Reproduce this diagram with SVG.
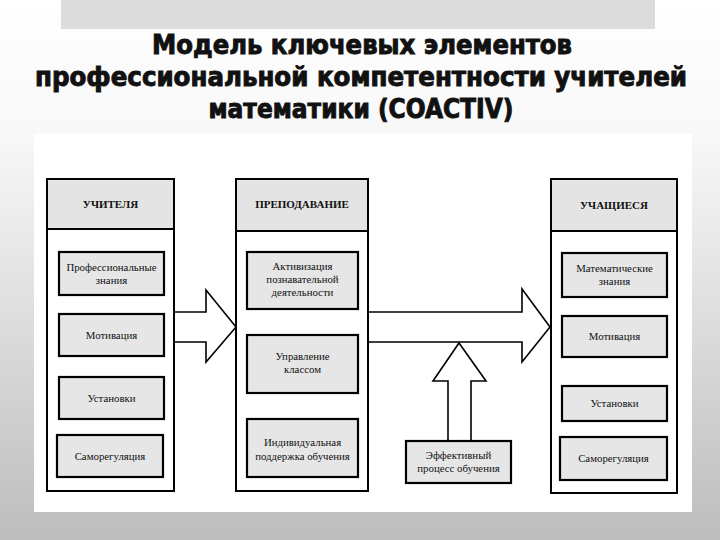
<svg xmlns="http://www.w3.org/2000/svg" width="720" height="540" viewBox="0 0 720 540">
<defs>
<linearGradient id="bg" x1="0" y1="0" x2="0" y2="1">
<stop offset="0" stop-color="#ffffff"/>
<stop offset="0.25" stop-color="#f8f8f8"/>
<stop offset="1" stop-color="#bdbdbd"/>
</linearGradient>
<style>
.title{font-family:"DejaVu Sans Condensed","DejaVu Sans",sans-serif;font-weight:bold;font-stretch:condensed;font-size:21px;fill:#111;text-anchor:middle;stroke:#111;stroke-width:0.7}
.col{fill:#ffffff;stroke:#000;stroke-width:2}
.hdr{fill:#e4e4e4;stroke:#000;stroke-width:2}
.box{fill:#e6e6e6;stroke:#000;stroke-width:2.2}
.ht{font-family:"Liberation Serif","Times New Roman",serif;font-weight:bold;font-size:11px;fill:#111;text-anchor:middle}
.t{font-family:"Liberation Serif","Times New Roman",serif;font-size:10.8px;fill:#111;text-anchor:middle}
.arr{fill:#ffffff;stroke:#000;stroke-width:1.6;stroke-linejoin:miter}
</style>
</defs>
<rect x="0" y="0" width="720" height="540" fill="url(#bg)"/>
<rect x="61" y="0" width="594" height="29" fill="#dcdcdc"/>
<g id="title">
<text class="title" transform="translate(362,54) scale(1,1.3)" x="0" y="0" textLength="420" lengthAdjust="spacingAndGlyphs">Модель ключевых элементов</text>
<text class="title" transform="translate(361,86) scale(1,1.3)" x="0" y="0" textLength="652" lengthAdjust="spacingAndGlyphs">профессиональной компетентности  учителей</text>
<text class="title" transform="translate(361,118) scale(1,1.3)" x="0" y="0" textLength="305" lengthAdjust="spacingAndGlyphs">математики (COACTIV)</text>
</g>
<rect x="34" y="134" width="658" height="378" fill="#ffffff"/>

<g id="connectors">
<polyline class="arr" points="174,312 206,312 206,290 236,327 206,362 206,342 174,342"/>
<polyline class="arr" points="368,312 522,312 522,289 550,327 522,362 522,342 368,342"/>
<polyline class="arr" points="448,441 448,381 433,381 459,343 486,381 471,381 471,441"/>
</g>

<g id="teachers">
<rect class="col" x="47" y="179" width="127" height="312"/>
<rect class="hdr" x="47" y="179" width="127" height="50"/>
<text class="ht" x="110.5" y="208">УЧИТЕЛЯ</text>
</g>
<g id="t-knowledge">
<rect class="box" x="59" y="252" width="105" height="43"/>
<text class="t" x="111.5" y="271">Профессиональные</text>
<text class="t" x="111.5" y="284">знания</text>
</g>
<g id="t-motivation">
<rect class="box" x="59" y="314" width="105" height="42"/>
<text class="t" x="111.5" y="339">Мотивация</text>
</g>
<g id="t-beliefs">
<rect class="box" x="59" y="377" width="105" height="42"/>
<text class="t" x="111.5" y="402">Установки</text>
</g>
<g id="t-selfreg">
<rect class="box" x="57" y="435" width="106" height="42"/>
<text class="t" x="110" y="460">Саморегуляция</text>
</g>

<g id="teaching">
<rect class="col" x="236" y="179" width="132" height="312"/>
<rect class="hdr" x="236" y="179" width="132" height="52"/>
<text class="ht" x="302" y="208">ПРЕПОДАВАНИЕ</text>
</g>
<g id="m-activation">
<rect class="box" x="247" y="252" width="111" height="57"/>
<text class="t" x="302.5" y="270">Активизация</text>
<text class="t" x="302.5" y="283">познавательной</text>
<text class="t" x="302.5" y="296">деятельности</text>
</g>
<g id="m-management">
<rect class="box" x="247" y="335" width="111" height="58"/>
<text class="t" x="302.5" y="360">Управление</text>
<text class="t" x="302.5" y="373">классом</text>
</g>
<g id="m-support">
<rect class="box" x="247" y="419" width="111" height="58"/>
<text class="t" x="302.5" y="446">Индивидуальная</text>
<text class="t" x="302.5" y="460">поддержка обучения</text>
</g>

<g id="learning">
<rect class="box" x="406" y="441" width="105" height="42"/>
<text class="t" x="458.5" y="459">Эффективный</text>
<text class="t" x="458.5" y="472">процесс обучения</text>
</g>

<g id="students">
<rect class="col" x="551" y="179" width="126" height="314"/>
<rect class="hdr" x="551" y="179" width="126" height="52"/>
<text class="ht" x="614" y="209">УЧАЩИЕСЯ</text>
</g>
<g id="s-knowledge">
<rect class="box" x="562" y="253" width="105" height="44"/>
<text class="t" x="614.5" y="272">Математические</text>
<text class="t" x="614.5" y="285">знания</text>
</g>
<g id="s-motivation">
<rect class="box" x="562" y="316" width="105" height="41"/>
<text class="t" x="614.5" y="340">Мотивация</text>
</g>
<g id="s-beliefs">
<rect class="box" x="562" y="386" width="105" height="35"/>
<text class="t" x="614.5" y="407">Установки</text>
</g>
<g id="s-selfreg">
<rect class="box" x="560" y="437" width="107" height="43"/>
<text class="t" x="613.5" y="462">Саморегуляция</text>
</g>
</svg>
